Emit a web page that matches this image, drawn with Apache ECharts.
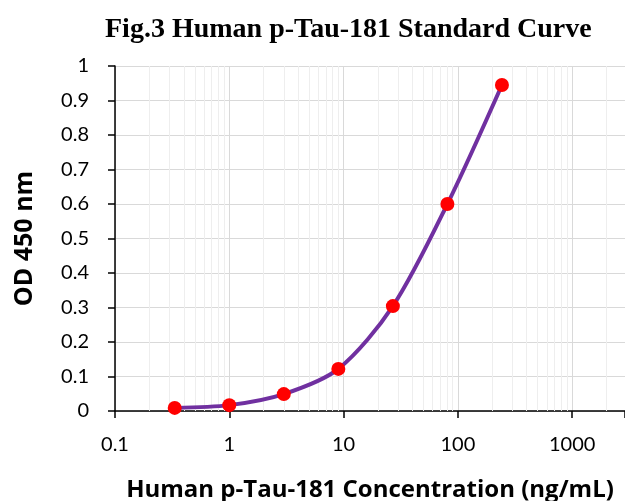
<!DOCTYPE html>
<html>
<head>
<meta charset="utf-8">
<script src="https://cdn.jsdelivr.net/npm/echarts@6/dist/echarts.min.js"></script>
<style>
    html, body {margin: 0; padding: 0; background: #ffffff;}
    #chart {width: 625px; height: 501px;}
</style>
</head>
<body>
<div id="chart"></div>
<script>
// standard points
var concentration = [0.333, 1, 3, 9, 27, 81, 243];
var od450 = [0.009, 0.017, 0.049, 0.122, 0.304, 0.600, 0.945];
var decades = [0.1, 1, 10, 100, 1000];

var points = concentration.map(function (c, i) {
    return [c, od450[i]];
});

// minor grid lines at 2..9 of each decade
var xMax = 2900;
var minorLines = [];
decades.forEach(function (d) {
    for (var k = 2; k <= 9; k++) {
        if (d * k < xMax) {
            minorLines.push({xAxis: d * k});
        }
    }
});

var labelFont = 'Lato, Carlito, sans-serif';
var nameFont = '"Open Sans", sans-serif';

var option = {
    animation: false,
    backgroundColor: '#ffffff',
    title: {
        text: 'Fig.3 Human p-Tau-181 Standard Curve',
        left: 100,
        top: 11,
        textStyle: {
            fontFamily: 'Liberation Serif',
            fontWeight: 'bold',
            fontSize: 28,
            color: '#000000'
        }
    },
    grid: {
        left: 115,
        top: 66,
        right: 0,
        bottom: 90,
        containLabel: false,
        outerBoundsMode: 'none'
    },
    xAxis: {
        type: 'log',
        logBase: 10,
        min: 0.1,
        max: xMax,
        name: 'Human p-Tau-181 Concentration (ng/mL)',
        nameLocation: 'middle',
        nameGap: 67,
        nameTextStyle: {
            fontFamily: nameFont,
            fontWeight: 'bold',
            fontSize: 24,
            color: '#000000'
        },
        axisLine: {
            onZero: false,
            lineStyle: {color: '#000000', width: 1.5}
        },
        axisTick: {
            show: true,
            inside: false,
            length: 7,
            lineStyle: {color: '#000000', width: 1.5}
        },
        axisLabel: {
            fontFamily: labelFont,
            fontSize: 20,
            color: '#000000',
            margin: 24,
            formatter: function (v) {
                return decades.indexOf(v) >= 0 ? String(v) : '';
            }
        },
        splitLine: {
            show: true,
            lineStyle: {color: '#d9d9d9', width: 1}
        }
    },
    yAxis: {
        type: 'value',
        min: 0,
        max: 1,
        interval: 0.1,
        name: 'OD 450 nm',
        nameLocation: 'middle',
        nameGap: 78,
        nameTextStyle: {
            fontFamily: nameFont,
            fontWeight: 'bold',
            fontSize: 25,
            color: '#000000'
        },
        axisLine: {
            show: true,
            lineStyle: {color: '#000000', width: 1.5}
        },
        axisTick: {
            show: true,
            length: 7,
            lineStyle: {color: '#000000', width: 1.5}
        },
        axisLabel: {
            fontFamily: labelFont,
            fontSize: 20,
            color: '#000000',
            margin: 26
        },
        splitLine: {
            show: true,
            lineStyle: {color: '#d9d9d9', width: 1}
        }
    },
    series: [
        {
            // minor vertical grid
            type: 'line',
            data: [],
            silent: true,
            z: 1,
            markLine: {
                silent: true,
                symbol: 'none',
                label: {show: false},
                lineStyle: {color: '#eeeeee', width: 1, type: 'solid'},
                data: minorLines
            }
        },
        {
            name: 'Standard Curve',
            type: 'line',
            data: points,
            smooth: 0.3,
            z: 5,
            symbol: 'circle',
            symbolSize: 14,
            lineStyle: {color: '#7030a0', width: 4},
            itemStyle: {color: '#ff0000', borderWidth: 0}
        }
    ]
};

var chart = echarts.init(document.getElementById('chart'));
chart.setOption(option);
</script>
</body>
</html>
